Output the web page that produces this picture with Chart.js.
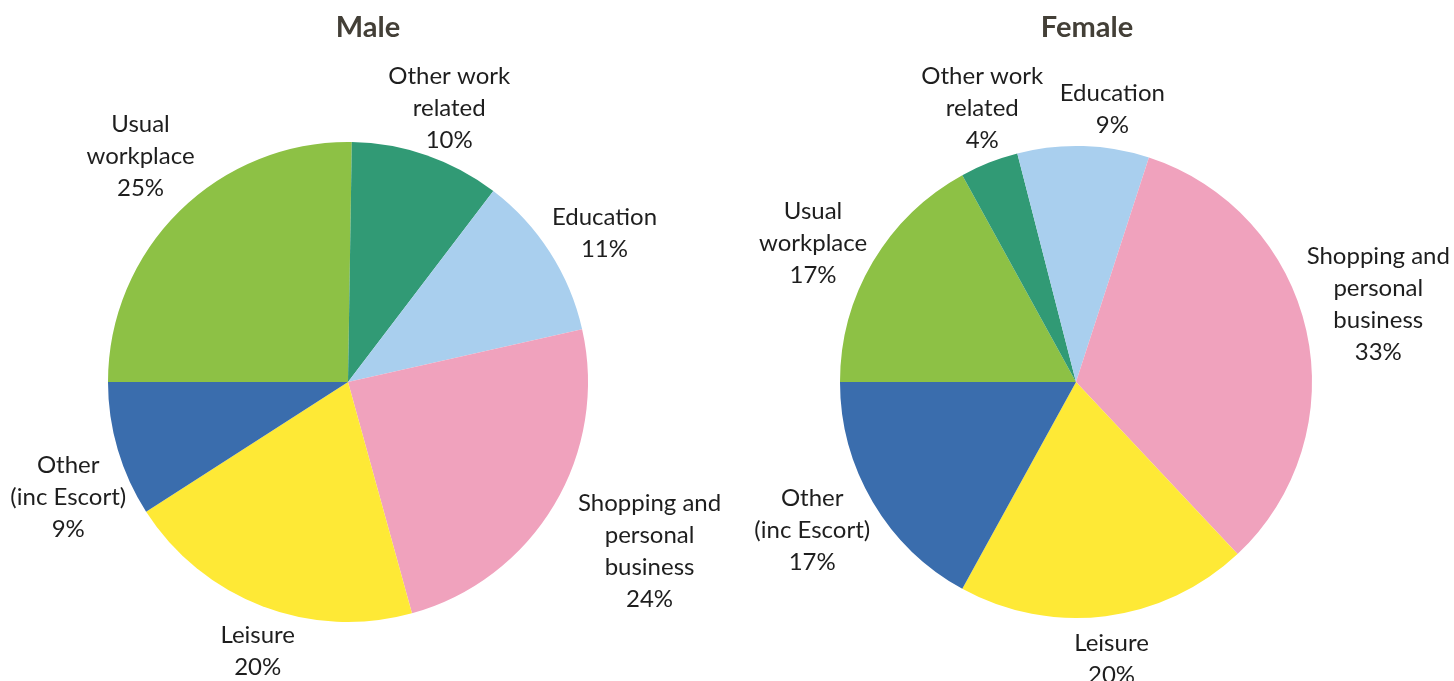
<!DOCTYPE html>
<html>
<head>
<meta charset="utf-8">
<script src="https://cdn.jsdelivr.net/npm/chart.js@4.4.1/dist/chart.umd.min.js"></script>
<style>
  html, body { margin: 0; padding: 0; background: #ffffff; }
  .row { display: flex; width: 1454px; height: 681px; }
  canvas { display: block; }
</style>
</head>
<body>
<div class="row">
  <canvas id="male" width="727" height="681"></canvas>
  <canvas id="female" width="727" height="681"></canvas>
</div>
<script>
// Journey purpose shares (%), clockwise from nine o'clock
const categories = [
  ['Usual', 'workplace'],
  ['Other work', 'related'],
  ['Education'],
  ['Shopping and', 'personal', 'business'],
  ['Leisure'],
  ['Other', '(inc Escort)']
];
const maleValues = [25, 10, 11, 24, 20, 9];
const femaleValues = [17, 4, 9, 33, 20, 17];
const sliceColors = ['#8dc145', '#319a75', '#a9cfee', '#f0a2bd', '#fee936', '#3a6dad'];

const FONT = 'Lato, "Open Sans", sans-serif';
const LINE_H = 32;

// Draws the title and the outside-end labels for each slice
const pieLabels = {
  id: 'pieLabels',
  afterDraw(chart, args, opts) {
    const ctx = chart.ctx;
    const meta = chart.getDatasetMeta(0);
    const values = chart.data.datasets[0].data;
    ctx.save();
    ctx.textAlign = 'center';
    ctx.textBaseline = 'middle';

    // title
    ctx.font = 'bold 29px ' + FONT;
    ctx.fillStyle = '#433f37';
    ctx.fillText(opts.title, opts.titleX, 28);

    ctx.font = '24px ' + FONT;
    ctx.fillStyle = '#1e1e1e';
    meta.data.forEach((arc, i) => {
      const p = arc.getProps(['x', 'y', 'startAngle', 'endAngle', 'outerRadius'], true);
      const mid = (p.startAngle + p.endAngle) / 2;
      const lines = chart.data.labels[i].concat([values[i] + '%']);
      const w = Math.max(...lines.map(t => ctx.measureText(t).width));
      const h = lines.length * LINE_H;
      const cx = Math.cos(mid), sy = Math.sin(mid);
      const reach = Math.abs(cx) * w / 2 + Math.abs(sy) * h / 2;
      const d = p.outerRadius + opts.gap + reach;
      const shift = opts.nudge[i];
      const lx = p.x + cx * d + shift[0];
      const ly = p.y + sy * d + shift[1];
      lines.forEach((t, k) => {
        ctx.fillText(t, lx, ly + (k - (lines.length - 1) / 2) * LINE_H);
      });
    });
    ctx.restore();
  }
};

function makePie(id, values, title, titleX, padding, nudge) {
  return new Chart(document.getElementById(id), {
    type: 'pie',
    data: {
      labels: categories,
      datasets: [{
        data: values,
        backgroundColor: sliceColors,
        borderWidth: 0
      }]
    },
    options: {
      responsive: false,
      animation: false,
      rotation: -90,
      layout: { padding: padding },
      plugins: {
        legend: { display: false },
        tooltip: { enabled: false },
        pieLabels: { title: title, titleX: titleX, gap: -5, nudge: nudge }
      }
    },
    plugins: [pieLabels]
  });
}

// label fine placement, [dx, dy] per slice
const maleNudge = [[8, -7], [3, 10], [7, 12], [19, 0], [9, 9], [12, 30]];
const femaleNudge = [[-3, 15], [16, 3], [28, -8], [-5, -9], [2, 12], [-1, -7]];

makePie('male', maleValues, 'Male', 368, { left: 108, right: 139, top: 142, bottom: 59 }, maleNudge);
makePie('female', femaleValues, 'Female', 360, { left: 113, right: 142, top: 146, bottom: 63 }, femaleNudge);
</script>
</body>
</html>
